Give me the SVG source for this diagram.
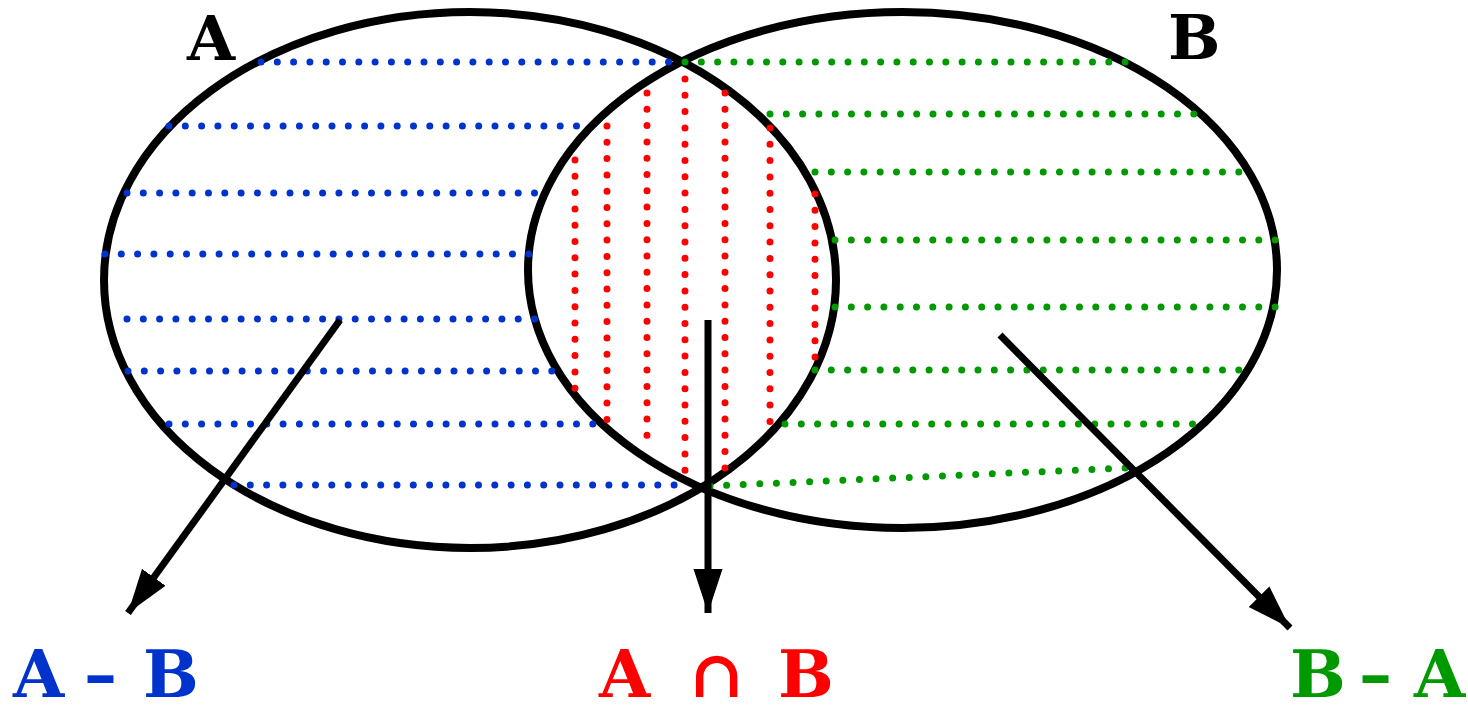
<svg xmlns="http://www.w3.org/2000/svg" width="1468" height="706" viewBox="0 0 1468 706">
<style>
.set{fill:none;stroke:#000;stroke-width:8}
.dot{fill:none;stroke-width:7;stroke-linecap:round;stroke-dasharray:0 16.3}
.b{stroke:#0033cc}.g{stroke:#009900}.r{stroke:#ff0000}
.arr{fill:none;stroke:#000;stroke-width:7;marker-end:url(#ah)}
.lbl{font-family:"DejaVu Serif","Liberation Serif",serif;font-weight:bold}
</style>
<defs>
<marker id="ah" markerUnits="userSpaceOnUse" markerWidth="46" markerHeight="32" viewBox="0 0 46 32" refX="44" refY="16" orient="auto">
<path d="M0,1.5 L44,16 L0,30.5 z" fill="#000"/>
</marker>
</defs>
<rect width="1468" height="706" fill="#fff"/>
<g id="setA"><ellipse class="set" cx="470" cy="280" rx="366" ry="268"/></g>
<g id="setB"><ellipse class="set" cx="902.5" cy="270" rx="374.5" ry="258"/></g>
<g id="regionAminusB">
<line class="dot b" x1="261" y1="62" x2="669.5" y2="62"/>
<line class="dot b" x1="169" y1="126" x2="577.5" y2="126"/>
<line class="dot b" x1="127" y1="193" x2="535.5" y2="193"/>
<line class="dot b" x1="105" y1="254" x2="529.8" y2="254"/>
<line class="dot b" x1="127" y1="319" x2="535.5" y2="319"/>
<line class="dot b" x1="128" y1="371" x2="552.8" y2="371"/>
<line class="dot b" x1="169" y1="424" x2="593.8" y2="424"/>
<line class="dot b" x1="234" y1="485" x2="675.1" y2="485"/>
</g>
<g id="regionBminusA">
<line class="dot g" x1="685" y1="62" x2="1126.1" y2="62"/>
<line class="dot g" x1="770" y1="114" x2="1194.8" y2="114"/>
<line class="dot g" x1="815" y1="172" x2="1239.8" y2="172"/>
<line class="dot g" x1="835" y1="240" x2="1276.1" y2="240"/>
<line class="dot g" x1="835" y1="307" x2="1276.1" y2="307"/>
<line class="dot g" x1="815" y1="370" x2="1239.8" y2="370"/>
<line class="dot g" x1="785" y1="424" x2="1193.5" y2="424"/>
<line class="dot g" x1="710" y1="486" x2="1126" y2="468" style="stroke-dasharray:0 16.62"/>
</g>
<g id="regionAandB">
<line class="dot r" x1="575" y1="160" x2="575" y2="389.2"/>
<line class="dot r" x1="607" y1="126" x2="607" y2="420.4"/>
<line class="dot r" x1="647" y1="93" x2="647" y2="436.3"/>
<line class="dot r" x1="685" y1="79" x2="685" y2="471.2"/>
<line class="dot r" x1="725" y1="93" x2="725" y2="468.9"/>
<line class="dot r" x1="770" y1="128" x2="770" y2="422.4"/>
<line class="dot r" x1="815" y1="194" x2="815" y2="358"/>
</g>
<g id="connectors">
<line class="arr" x1="340" y1="320" x2="128" y2="613"/>
<line class="arr" x1="708" y1="320" x2="708" y2="613"/>
<line class="arr" x1="1000" y1="335" x2="1290" y2="628"/>
</g>
<g id="labelA"><text class="lbl" x="187" y="60" font-size="62" fill="#000">A</text></g>
<g id="labelB"><text class="lbl" x="1168" y="59" font-size="62" fill="#000">B</text></g>
<g id="labelAminusB"><text class="lbl" y="697" font-size="66" fill="#0033cc"><tspan x="13">A</tspan><tspan x="84">–</tspan><tspan x="143">B</tspan></text></g>
<g id="labelAandB"><text class="lbl" y="697" font-size="66" fill="#ff0000"><tspan x="599">A</tspan><tspan x="689">∩</tspan><tspan x="778">B</tspan></text></g>
<g id="labelBminusA"><text class="lbl" y="697" font-size="66" fill="#009900"><tspan x="1290">B</tspan><tspan x="1359">–</tspan><tspan x="1414">A</tspan></text></g>
</svg>
